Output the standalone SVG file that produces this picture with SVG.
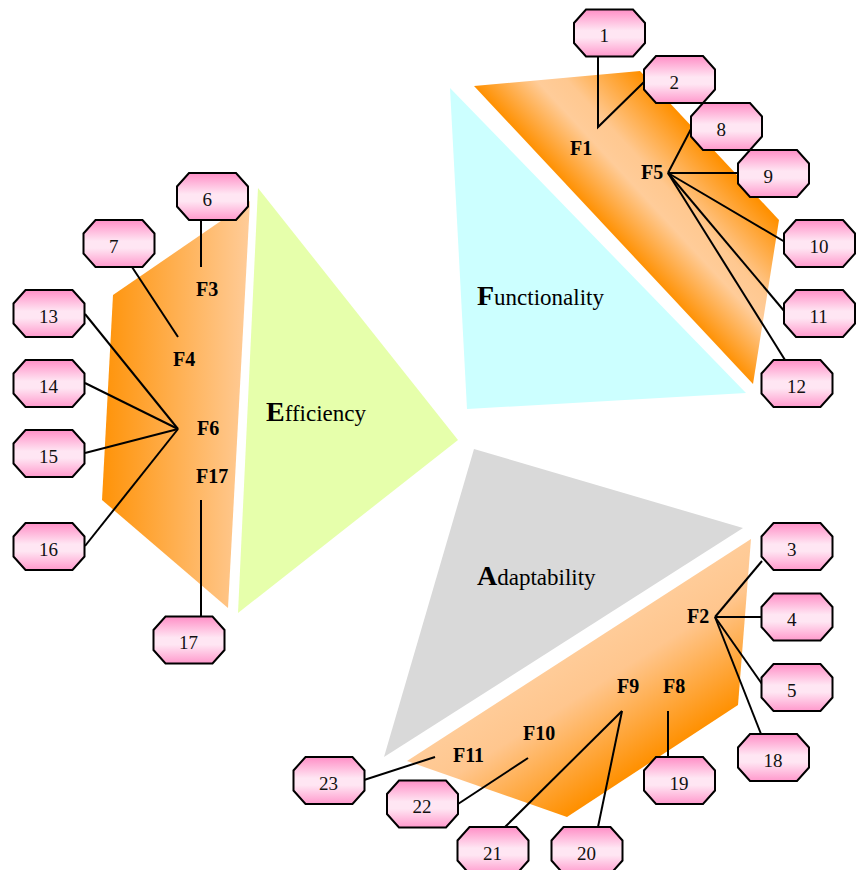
<svg xmlns="http://www.w3.org/2000/svg" xmlns:xlink="http://www.w3.org/1999/xlink" width="864" height="870" viewBox="0 0 864 870">
<defs>
<linearGradient id="pink" x1="0" y1="0" x2="0" y2="1">
<stop offset="0" stop-color="#FF8EC6"/>
<stop offset="0.45" stop-color="#FFE6F3"/>
<stop offset="0.6" stop-color="#FFE6F3"/>
<stop offset="1" stop-color="#FF99CC"/>
</linearGradient>
<linearGradient id="gF" gradientUnits="userSpaceOnUse" x1="474" y1="86" x2="570" y2="-3">
<stop offset="0" stop-color="#FF9000"/>
<stop offset="0.38" stop-color="#FFCC99"/>
<stop offset="0.55" stop-color="#FFC890"/>
<stop offset="1" stop-color="#FF9000"/>
</linearGradient>
<linearGradient id="gE" gradientUnits="userSpaceOnUse" x1="102" y1="0" x2="250" y2="0">
<stop offset="0" stop-color="#FF9308"/>
<stop offset="1" stop-color="#FFCC99"/>
</linearGradient>
<linearGradient id="gA" gradientUnits="userSpaceOnUse" x1="751" y1="539" x2="823" y2="652">
<stop offset="0" stop-color="#FFCC99"/>
<stop offset="0.3" stop-color="#FFC68E"/>
<stop offset="1" stop-color="#FF9000"/>
</linearGradient>
<path id="oct" d="M-23.5,-23.5 H23.5 L35.5,-10 V10 L23.5,23.5 H-23.5 L-35.5,10 V-10 Z"/>
</defs>
<style>
.node use{fill:url(#pink);stroke:#000;stroke-width:2}
.node text{font-family:"Liberation Serif","Times New Roman",serif;font-size:19px;fill:#111}
.flab{font-family:"Liberation Serif","Times New Roman",serif;font-size:20px;font-weight:bold;fill:#000}
.big{font-family:"Liberation Serif","Times New Roman",serif;font-size:23px;fill:#000}
.big .ini{font-size:28px;font-weight:bold}
#connectors line,#connectors polyline{stroke:#000;stroke-width:2;fill:none}
</style>

<g id="areas">
<polygon id="cyan" points="450,88 746,393 467,409" fill="#CCFFFF"/>
<polygon id="green" points="258,188 458,440 238,613" fill="#E6FFAB"/>
<polygon id="gray" points="474,449 743,528 384,757" fill="#D9D9D9"/>
<polygon id="orangeF" points="474,86 640,71 779,220 753,384" fill="url(#gF)"/>
<polygon id="orangeE" points="113,295 250,201 228,608 102,500" fill="url(#gE)"/>
<polygon id="orangeA" points="751,539 738,705 567,817 407,761" fill="url(#gA)"/>
<text class="big" x="477" y="305"><tspan class="ini">F</tspan>unctionality</text>
<text class="big" x="266" y="421"><tspan class="ini">E</tspan>fficiency</text>
<text class="big" x="477" y="585"><tspan class="ini">A</tspan>daptability</text>
</g>

<g id="flabels">
<text class="flab" x="570" y="155">F1</text>
<text class="flab" x="641" y="179">F5</text>
<text class="flab" x="196" y="296">F3</text>
<text class="flab" x="173" y="366">F4</text>
<text class="flab" x="197" y="435">F6</text>
<text class="flab" x="196" y="483">F17</text>
<text class="flab" x="687" y="623">F2</text>
<text class="flab" x="617" y="693">F9</text>
<text class="flab" x="663" y="693">F8</text>
<text class="flab" x="523" y="740">F10</text>
<text class="flab" x="453" y="762">F11</text>
</g>

<g id="connectors">
<polyline points="598,57 598,127 644,82"/>
<line x1="668" y1="173" x2="691" y2="129"/>
<line x1="668" y1="173" x2="738" y2="173"/>
<line x1="668" y1="173" x2="785" y2="242"/>
<line x1="668" y1="173" x2="785" y2="312"/>
<line x1="668" y1="173" x2="785" y2="360"/>
<line x1="201" y1="220" x2="201" y2="267"/>
<line x1="132" y1="267" x2="178" y2="337"/>
<line x1="178" y1="429" x2="85" y2="314"/>
<line x1="178" y1="429" x2="85" y2="383"/>
<line x1="178" y1="429" x2="85" y2="453"/>
<line x1="178" y1="429" x2="85" y2="546"/>
<line x1="201" y1="500" x2="201" y2="617"/>
<line x1="715" y1="617" x2="762" y2="561"/>
<line x1="715" y1="617" x2="762" y2="617"/>
<line x1="715" y1="617" x2="762" y2="684"/>
<line x1="715" y1="617" x2="761" y2="734"/>
<line x1="668" y1="711" x2="668" y2="757"/>
<line x1="622" y1="711" x2="505" y2="827"/>
<line x1="622" y1="711" x2="598" y2="827"/>
<line x1="528" y1="758" x2="458" y2="804"/>
<line x1="435" y1="757" x2="364" y2="780"/>
</g>

<g id="n1" class="node" transform="translate(609.5,33)"><use href="#oct"/><text x="-10" y="9">1</text></g>
<g id="n2" class="node" transform="translate(679.5,79.5)"><use href="#oct"/><text x="-10" y="9">2</text></g>
<g id="n8" class="node" transform="translate(726.5,126.5)"><use href="#oct"/><text x="-10" y="9">8</text></g>
<g id="n9" class="node" transform="translate(773.5,173.5)"><use href="#oct"/><text x="-10" y="9">9</text></g>
<g id="n10" class="node" transform="translate(819.5,243.5)"><use href="#oct"/><text x="-10" y="9">10</text></g>
<g id="n11" class="node" transform="translate(819.5,313.5)"><use href="#oct"/><text x="-10" y="9">11</text></g>
<g id="n12" class="node" transform="translate(797,383.5)"><use href="#oct"/><text x="-10" y="9">12</text></g>
<g id="n6" class="node" transform="translate(212.5,196.5)"><use href="#oct"/><text x="-10" y="9">6</text></g>
<g id="n7" class="node" transform="translate(119,243.5)"><use href="#oct"/><text x="-10" y="9">7</text></g>
<g id="n13" class="node" transform="translate(49,313.5)"><use href="#oct"/><text x="-10" y="9">13</text></g>
<g id="n14" class="node" transform="translate(49,383.5)"><use href="#oct"/><text x="-10" y="9">14</text></g>
<g id="n15" class="node" transform="translate(49,453.5)"><use href="#oct"/><text x="-10" y="9">15</text></g>
<g id="n16" class="node" transform="translate(49,546.5)"><use href="#oct"/><text x="-10" y="9">16</text></g>
<g id="n17" class="node" transform="translate(189,640)"><use href="#oct"/><text x="-10" y="9">17</text></g>
<g id="n3" class="node" transform="translate(797,546.5)"><use href="#oct"/><text x="-10" y="9">3</text></g>
<g id="n4" class="node" transform="translate(797,617)"><use href="#oct"/><text x="-10" y="9">4</text></g>
<g id="n5" class="node" transform="translate(797,687.5)"><use href="#oct"/><text x="-10" y="9">5</text></g>
<g id="n18" class="node" transform="translate(773.5,757.5)"><use href="#oct"/><text x="-10" y="9">18</text></g>
<g id="n19" class="node" transform="translate(679.5,780.5)"><use href="#oct"/><text x="-10" y="9">19</text></g>
<g id="n23" class="node" transform="translate(329,780.5)"><use href="#oct"/><text x="-10" y="9">23</text></g>
<g id="n22" class="node" transform="translate(422.5,804)"><use href="#oct"/><text x="-10" y="9">22</text></g>
<g id="n21" class="node" transform="translate(493,850.5)"><use href="#oct"/><text x="-10" y="9">21</text></g>
<g id="n20" class="node" transform="translate(587,850.5)"><use href="#oct"/><text x="-10" y="9">20</text></g>
</svg>
